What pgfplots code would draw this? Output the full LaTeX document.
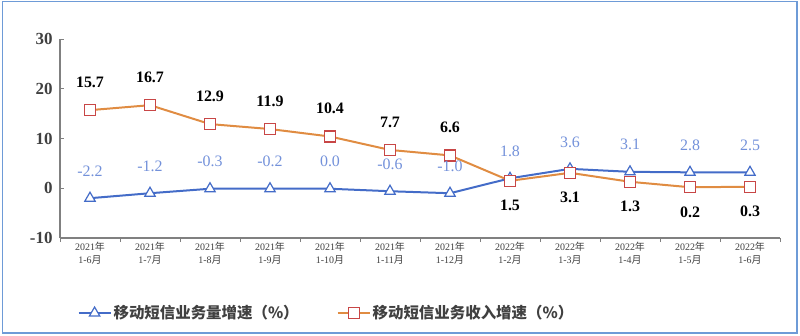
\documentclass[border=0pt]{standalone}
\usepackage{pgfplots}
\pgfplotsset{compat=1.18}
\usepackage{fontspec}
\setmainfont{Liberation Serif}
\newfontfamily\cjk{Noto Sans CJK SC}
\definecolor{bl}{RGB}{68,108,200}
\definecolor{bllab}{RGB}{115,145,218}
\definecolor{org}{RGB}{224,140,66}
\definecolor{sqr}{RGB}{200,70,70}
\definecolor{frm}{RGB}{110,155,215}
\definecolor{axc}{RGB}{128,128,128}
\definecolor{txt}{RGB}{64,64,64}
\begin{document}
\begin{tikzpicture}
\begin{axis}[
  at={(60bp,98bp)}, anchor=south west,
  scale only axis, width=720bp, height=199bp,
  xmin=-0.5, xmax=11.5, ymin=-10, ymax=30,
  axis lines=left, axis line style={-, draw=axc, line width=1.1bp},
  ytick={-10,0,10,20,30},
  yticklabel style={font=\fontsize{17}{18}\selectfont\bfseries, text=txt, xshift=-4bp},
  /pgf/number format/assume math mode=true,
  tick align=inside, major tick length=4bp,
  tick style={draw=axc, line width=1bp},
  xtick={0,...,11},
  x tick style={draw=none},
  minor xtick={-0.5,0.5,...,11.5},
  minor tick length=4bp,
  minor x tick style={draw=axc, line width=1bp, yshift=-4bp},
  xticklabels={
    {2021{\cjk 年}\\1-6{\cjk 月}},{2021{\cjk 年}\\1-7{\cjk 月}},{2021{\cjk 年}\\1-8{\cjk 月}},
    {2021{\cjk 年}\\1-9{\cjk 月}},{2021{\cjk 年}\\1-10{\cjk 月}},{2021{\cjk 年}\\1-11{\cjk 月}},
    {2021{\cjk 年}\\1-12{\cjk 月}},{2022{\cjk 年}\\1-2{\cjk 月}},{2022{\cjk 年}\\1-3{\cjk 月}},
    {2022{\cjk 年}\\1-4{\cjk 月}},{2022{\cjk 年}\\1-5{\cjk 月}},{2022{\cjk 年}\\1-6{\cjk 月}}},
  xticklabel style={align=center, font=\fontsize{10}{12.5}\selectfont, text=txt, yshift=-1bp},
  legend style={at={(0.37,-0.377)}, anchor=center, draw=none, fill=none,
    legend columns=2, font=\cjk\bfseries\fontsize{15.5}{17}\selectfont, text=txt,
    /tikz/every even column/.append style={column sep=36bp}},
  legend image code/.code={\draw[mark repeat=2,mark phase=2,#1] plot coordinates {(0bp,0bp) (16bp,0bp) (32bp,0bp)};},
]
\addplot[bl, line width=2bp, mark=triangle*, mark size=6bp, mark options={draw=bl, fill=white, line width=1.2bp}]
 coordinates {(0,-2.0) (1,-1.0) (2,-0.1) (3,-0.1) (4,-0.1) (5,-0.6) (6,-1.0) (7,2.0) (8,3.9) (9,3.3) (10,3.2) (11,3.2)};
\addlegendentry{移动短信业务量增速（\%）}
\addplot[org, line width=2bp, mark=square*, mark size=5.5bp, mark options={draw=sqr, fill=white, line width=1.2bp}]
 coordinates {(0,15.7) (1,16.7) (2,12.9) (3,11.9) (4,10.4) (5,7.7) (6,6.6) (7,1.5) (8,3.1) (9,1.3) (10,0.2) (11,0.3)};
\addlegendentry{移动短信业务收入增速（\%）}
% blue labels
\addplot[draw=none, mark=none, forget plot, point meta=explicit symbolic, nodes near coords,
  nodes near coords style={anchor=center, yshift=27bp, font=\fontsize{16}{18}\selectfont, text=bllab}]
 table[meta=lab] {
x y lab
0 -2.0 -2.2
1 -1.0 -1.2
2 -0.1 -0.3
3 -0.1 -0.2
4 -0.1 0.0
5 -0.6 -0.6
6 -1.0 -1.0
7 2.0 1.8
8 3.9 3.6
9 3.3 3.1
10 3.2 2.8
11 3.2 2.5
};
% orange labels above
\addplot[draw=none, mark=none, forget plot, point meta=explicit symbolic, nodes near coords,
  nodes near coords style={anchor=center, yshift=28bp, font=\fontsize{16}{18}\selectfont\bfseries, text=black}]
 table[meta=lab] {
x y lab
0 15.7 15.7
1 16.7 16.7
2 12.9 12.9
3 11.9 11.9
4 10.4 10.4
5 7.7 7.7
6 6.6 6.6
};
% orange labels below
\addplot[draw=none, mark=none, forget plot, point meta=explicit symbolic, nodes near coords,
  nodes near coords style={anchor=center, yshift=-25bp, font=\fontsize{16}{18}\selectfont\bfseries, text=black}]
 table[meta=lab] {
x y lab
7 1.5 1.5
8 3.1 3.1
9 1.3 1.3
10 0.2 0.2
11 0.3 0.3
};
\end{axis}
\draw[frm, line width=1.6bp] (2.5bp,3bp) rectangle (797bp,334.5bp);
\pgfresetboundingbox
\useasboundingbox (0,0) rectangle (800bp,336bp);
\end{tikzpicture}
\end{document}
